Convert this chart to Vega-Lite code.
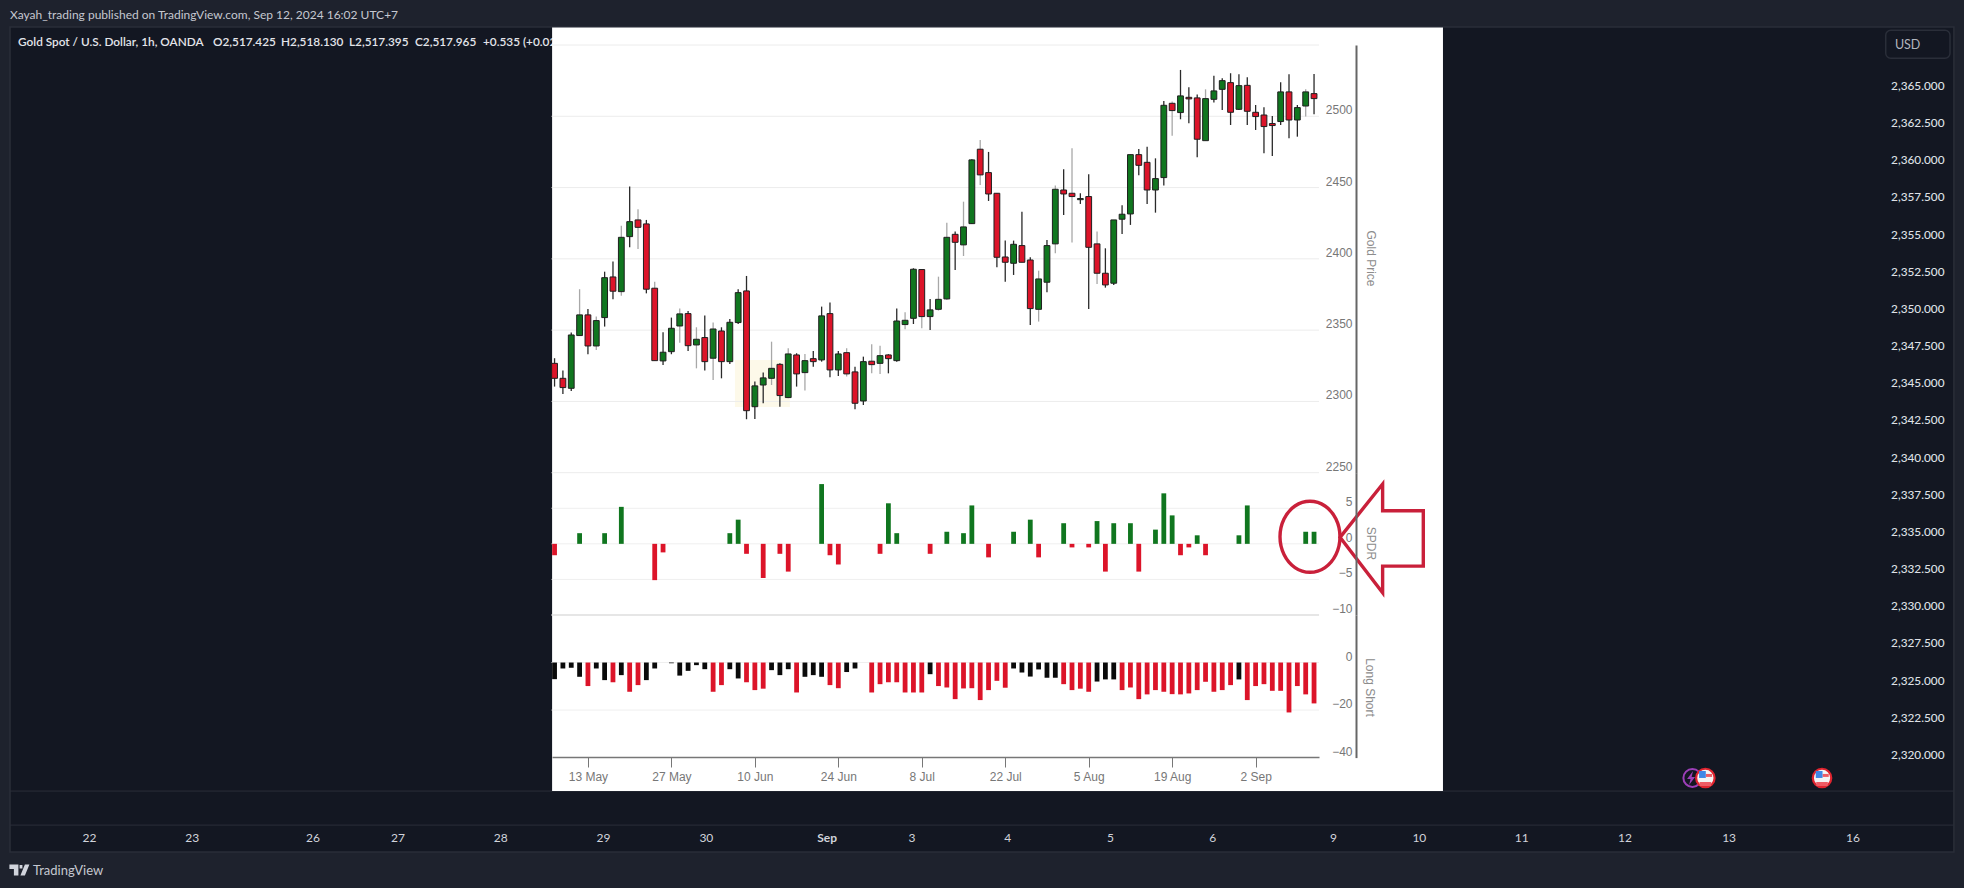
{
  "$schema": "https://vega.github.io/schema/vega-lite/v6.json",
  "width": 1964,
  "height": 888,
  "autosize": "none",
  "padding": 0,
  "background": "#1e222d",
  "config": {"view": {"stroke": null}, "font": "Liberation Sans"},
  "datasets": {
    "days": [
      {"d":"7 May","dir":"d","o":2326.7,"h":2330.3,"l":2310.4,"c":2316.2,"wick":"k","spdr":-1.6,"ls":-7,"lsc":"k"},
      {"d":"8 May","dir":"d","o":2316.2,"h":2321.6,"l":2305.2,"c":2309.7,"wick":"k","spdr":0,"ls":-2.5,"lsc":"k"},
      {"d":"9 May","dir":"u","o":2309.2,"h":2348.3,"l":2307.3,"c":2346.6,"wick":"k","spdr":0,"ls":-2.2,"lsc":"k"},
      {"d":"10 May","dir":"u","o":2346.2,"h":2378.7,"l":2346.2,"c":2360.7,"wick":"g","spdr":1.5,"ls":-6,"lsc":"k"},
      {"d":"13 May","dir":"d","o":2360.7,"h":2364.9,"l":2333.1,"c":2338.9,"wick":"k","spdr":0,"ls":-9.9,"lsc":"r"},
      {"d":"14 May","dir":"u","o":2338.9,"h":2359.5,"l":2336.1,"c":2356.7,"wick":"g","spdr":0,"ls":-2.5,"lsc":"k"},
      {"d":"15 May","dir":"u","o":2358.8,"h":2391,"l":2352.5,"c":2386.8,"wick":"k","spdr":1.5,"ls":-7.4,"lsc":"k"},
      {"d":"16 May","dir":"d","o":2387.3,"h":2398.1,"l":2371.6,"c":2377.3,"wick":"k","spdr":0,"ls":-8.3,"lsc":"r"},
      {"d":"17 May","dir":"u","o":2377,"h":2423.3,"l":2374.2,"c":2415.1,"wick":"g","spdr":5.2,"ls":-5.3,"lsc":"k"},
      {"d":"20 May","dir":"u","o":2415.6,"h":2450.7,"l":2408.1,"c":2426.1,"wick":"k","spdr":0,"ls":-12.3,"lsc":"r"},
      {"d":"21 May","dir":"d","o":2427.3,"h":2434.8,"l":2406.9,"c":2422.1,"wick":"g","spdr":0,"ls":-9.5,"lsc":"r"},
      {"d":"22 May","dir":"d","o":2424.5,"h":2427.3,"l":2375.8,"c":2378.7,"wick":"k","spdr":0,"ls":-7.4,"lsc":"k"},
      {"d":"23 May","dir":"d","o":2379.4,"h":2384,"l":2328.6,"c":2328.6,"wick":"g","spdr":-5.1,"ls":-2.5,"lsc":"k"},
      {"d":"24 May","dir":"u","o":2328.4,"h":2348.5,"l":2325.6,"c":2334.5,"wick":"k","spdr":-1.2,"ls":0,"lsc":"k"},
      {"d":"27 May","dir":"u","o":2334.9,"h":2358.8,"l":2333.1,"c":2351.3,"wick":"k","spdr":0,"ls":-0.3,"lsc":"k"},
      {"d":"28 May","dir":"u","o":2352.9,"h":2365.1,"l":2341.2,"c":2361.4,"wick":"g","spdr":0,"ls":-5.5,"lsc":"k"},
      {"d":"29 May","dir":"d","o":2361.6,"h":2363.5,"l":2335.4,"c":2339.1,"wick":"k","spdr":0,"ls":-3.5,"lsc":"k"},
      {"d":"30 May","dir":"u","o":2339.6,"h":2352,"l":2323.2,"c":2343.6,"wick":"g","spdr":0,"ls":-1.1,"lsc":"k"},
      {"d":"31 May","dir":"d","o":2344.8,"h":2360.2,"l":2321.6,"c":2327.9,"wick":"k","spdr":0,"ls":-2.8,"lsc":"k"},
      {"d":"3 Jun","dir":"u","o":2330.3,"h":2355.3,"l":2315.1,"c":2350.8,"wick":"g","spdr":0,"ls":-12.3,"lsc":"r"},
      {"d":"4 Jun","dir":"d","o":2349.4,"h":2352,"l":2316.2,"c":2327.9,"wick":"k","spdr":0,"ls":-9.5,"lsc":"r"},
      {"d":"5 Jun","dir":"u","o":2327.9,"h":2357.8,"l":2326.3,"c":2355.5,"wick":"k","spdr":1.5,"ls":-2.8,"lsc":"k"},
      {"d":"6 Jun","dir":"u","o":2355.3,"h":2378.7,"l":2354.3,"c":2376.3,"wick":"k","spdr":3.4,"ls":-6.7,"lsc":"k"},
      {"d":"7 Jun","dir":"d","o":2377.5,"h":2388,"l":2287.5,"c":2293.5,"wick":"k","spdr":-1.4,"ls":-8.3,"lsc":"r"},
      {"d":"10 Jun","dir":"u","o":2296.3,"h":2313.9,"l":2287.7,"c":2310.9,"wick":"k","spdr":0,"ls":-11.6,"lsc":"r"},
      {"d":"11 Jun","dir":"u","o":2311.5,"h":2320.2,"l":2298.7,"c":2316.5,"wick":"k","spdr":-4.8,"ls":-11,"lsc":"r"},
      {"d":"12 Jun","dir":"u","o":2316.2,"h":2341.9,"l":2311.5,"c":2323.2,"wick":"g","spdr":0,"ls":-3.2,"lsc":"k"},
      {"d":"13 Jun","dir":"d","o":2326,"h":2326.7,"l":2296.3,"c":2304.1,"wick":"k","spdr":-1.4,"ls":-5.3,"lsc":"k"},
      {"d":"14 Jun","dir":"u","o":2302.7,"h":2337.3,"l":2302.2,"c":2333.3,"wick":"g","spdr":-3.9,"ls":-2.8,"lsc":"k"},
      {"d":"17 Jun","dir":"d","o":2332.6,"h":2333.8,"l":2310.4,"c":2319.3,"wick":"k","spdr":0,"ls":-12.6,"lsc":"r"},
      {"d":"18 Jun","dir":"u","o":2320.2,"h":2333.3,"l":2307.6,"c":2328.6,"wick":"g","spdr":0,"ls":-6,"lsc":"k"},
      {"d":"19 Jun","dir":"d","o":2330,"h":2335.4,"l":2324.4,"c":2327.9,"wick":"k","spdr":0,"ls":-5.3,"lsc":"k"},
      {"d":"20 Jun","dir":"u","o":2329.1,"h":2366.5,"l":2327.9,"c":2360,"wick":"k","spdr":8.4,"ls":-6,"lsc":"k"},
      {"d":"21 Jun","dir":"d","o":2361.6,"h":2369.3,"l":2316.9,"c":2322.1,"wick":"k","spdr":-1.6,"ls":-9.5,"lsc":"r"},
      {"d":"24 Jun","dir":"u","o":2322.1,"h":2335.4,"l":2317.9,"c":2333.3,"wick":"k","spdr":-2.9,"ls":-10.8,"lsc":"r"},
      {"d":"25 Jun","dir":"d","o":2334.2,"h":2337.3,"l":2317.4,"c":2319.3,"wick":"g","spdr":0,"ls":-4,"lsc":"k"},
      {"d":"26 Jun","dir":"d","o":2320.7,"h":2324.4,"l":2294.5,"c":2298.7,"wick":"k","spdr":0,"ls":-2.5,"lsc":"k"},
      {"d":"27 Jun","dir":"u","o":2300.3,"h":2331.4,"l":2297.5,"c":2327.9,"wick":"k","spdr":0,"ls":0,"lsc":"k"},
      {"d":"28 Jun","dir":"d","o":2328.2,"h":2340.1,"l":2319.7,"c":2325.8,"wick":"g","spdr":0,"ls":-12.6,"lsc":"r"},
      {"d":"1 Jul","dir":"u","o":2326.7,"h":2339.1,"l":2319.3,"c":2332.1,"wick":"g","spdr":-1.4,"ls":-9.1,"lsc":"r"},
      {"d":"2 Jul","dir":"d","o":2332.6,"h":2333.1,"l":2319.7,"c":2330,"wick":"k","spdr":5.7,"ls":-8.3,"lsc":"r"},
      {"d":"3 Jul","dir":"u","o":2328.6,"h":2365.1,"l":2327.9,"c":2356.4,"wick":"k","spdr":1.5,"ls":-8.3,"lsc":"r"},
      {"d":"4 Jul","dir":"u","o":2353.9,"h":2362.5,"l":2350.6,"c":2356.9,"wick":"g","spdr":0,"ls":-12.6,"lsc":"r"},
      {"d":"5 Jul","dir":"u","o":2358.3,"h":2393.4,"l":2354.3,"c":2392.7,"wick":"k","spdr":0,"ls":-12.6,"lsc":"r"},
      {"d":"8 Jul","dir":"d","o":2392.5,"h":2392.5,"l":2351.3,"c":2359.5,"wick":"g","spdr":0,"ls":-12.6,"lsc":"r"},
      {"d":"9 Jul","dir":"u","o":2359.5,"h":2371.9,"l":2350.1,"c":2364.2,"wick":"k","spdr":-1.4,"ls":-4.9,"lsc":"k"},
      {"d":"10 Jul","dir":"u","o":2364.6,"h":2387.5,"l":2363.7,"c":2371.6,"wick":"g","spdr":0,"ls":-9.9,"lsc":"r"},
      {"d":"11 Jul","dir":"u","o":2371.9,"h":2425.4,"l":2371.2,"c":2415.1,"wick":"g","spdr":1.7,"ls":-10.5,"lsc":"r"},
      {"d":"12 Jul","dir":"d","o":2417.2,"h":2419.1,"l":2392.2,"c":2411.6,"wick":"k","spdr":0,"ls":-15.4,"lsc":"r"},
      {"d":"15 Jul","dir":"u","o":2409.8,"h":2440.1,"l":2402,"c":2422.4,"wick":"g","spdr":1.5,"ls":-10.9,"lsc":"r"},
      {"d":"16 Jul","dir":"u","o":2424.7,"h":2469.8,"l":2424.5,"c":2469.4,"wick":"k","spdr":5.4,"ls":-10.8,"lsc":"r"},
      {"d":"17 Jul","dir":"d","o":2476.9,"h":2483.4,"l":2451.8,"c":2458.9,"wick":"g","spdr":0,"ls":-15.8,"lsc":"r"},
      {"d":"18 Jul","dir":"d","o":2460.5,"h":2475,"l":2440.6,"c":2445.5,"wick":"k","spdr":-1.9,"ls":-11.6,"lsc":"r"},
      {"d":"19 Jul","dir":"d","o":2446,"h":2446,"l":2394.1,"c":2401.1,"wick":"k","spdr":0,"ls":-7.7,"lsc":"r"},
      {"d":"22 Jul","dir":"d","o":2401.3,"h":2412.8,"l":2384,"c":2397.6,"wick":"k","spdr":0,"ls":-10.6,"lsc":"r"},
      {"d":"23 Jul","dir":"u","o":2396.9,"h":2412.8,"l":2388.7,"c":2410.2,"wick":"k","spdr":1.7,"ls":-2.5,"lsc":"k"},
      {"d":"24 Jul","dir":"d","o":2409.3,"h":2433.1,"l":2397.6,"c":2397.6,"wick":"k","spdr":0,"ls":-4.2,"lsc":"k"},
      {"d":"25 Jul","dir":"d","o":2399.2,"h":2401.1,"l":2353.6,"c":2365.1,"wick":"k","spdr":3.4,"ls":-5.9,"lsc":"k"},
      {"d":"26 Jul","dir":"u","o":2364.6,"h":2391.7,"l":2356,"c":2385.9,"wick":"g","spdr":-1.9,"ls":-2.9,"lsc":"k"},
      {"d":"29 Jul","dir":"u","o":2383.6,"h":2413.3,"l":2376.6,"c":2409.3,"wick":"k","spdr":0,"ls":-6.4,"lsc":"k"},
      {"d":"30 Jul","dir":"u","o":2410.5,"h":2451.4,"l":2403.9,"c":2448.8,"wick":"g","spdr":0,"ls":-6.4,"lsc":"k"},
      {"d":"31 Jul","dir":"d","o":2448.3,"h":2462.8,"l":2430.8,"c":2445.5,"wick":"k","spdr":2.9,"ls":-9.1,"lsc":"r"},
      {"d":"1 Aug","dir":"d","o":2446,"h":2477.6,"l":2411.4,"c":2443.7,"wick":"g","spdr":-0.5,"ls":-11.6,"lsc":"r"},
      {"d":"2 Aug","dir":"u","o":2441.5,"h":2446,"l":2438.5,"c":2442.3,"wick":"k","spdr":0,"ls":-11,"lsc":"r"},
      {"d":"5 Aug","dir":"d","o":2443.7,"h":2459.3,"l":2364.9,"c":2408.1,"wick":"k","spdr":-0.5,"ls":-12.3,"lsc":"r"},
      {"d":"6 Aug","dir":"d","o":2410.5,"h":2419.1,"l":2382.4,"c":2389.9,"wick":"g","spdr":3.2,"ls":-8,"lsc":"k"},
      {"d":"7 Aug","dir":"d","o":2389.9,"h":2407.4,"l":2379.8,"c":2381.7,"wick":"k","spdr":-3.9,"ls":-7.1,"lsc":"k"},
      {"d":"8 Aug","dir":"u","o":2382.9,"h":2427.3,"l":2381.7,"c":2427.3,"wick":"k","spdr":2.9,"ls":-7.1,"lsc":"k"},
      {"d":"9 Aug","dir":"u","o":2427.8,"h":2437.6,"l":2417.5,"c":2431.3,"wick":"k","spdr":0,"ls":-11.6,"lsc":"r"},
      {"d":"12 Aug","dir":"u","o":2431.5,"h":2473.1,"l":2423.8,"c":2473.1,"wick":"k","spdr":2.9,"ls":-10.5,"lsc":"r"},
      {"d":"13 Aug","dir":"d","o":2473.1,"h":2477.1,"l":2458.6,"c":2465.6,"wick":"k","spdr":-3.9,"ls":-15.4,"lsc":"r"},
      {"d":"14 Aug","dir":"d","o":2467.7,"h":2478.7,"l":2438.5,"c":2448.3,"wick":"k","spdr":0,"ls":-13.4,"lsc":"r"},
      {"d":"15 Aug","dir":"u","o":2448.3,"h":2470.5,"l":2432.4,"c":2456.3,"wick":"k","spdr":2,"ls":-11.6,"lsc":"r"},
      {"d":"16 Aug","dir":"u","o":2457,"h":2510.8,"l":2451.4,"c":2507.7,"wick":"k","spdr":7.1,"ls":-12.3,"lsc":"r"},
      {"d":"19 Aug","dir":"d","o":2509.1,"h":2510.3,"l":2486.4,"c":2504,"wick":"g","spdr":4,"ls":-13.3,"lsc":"r"},
      {"d":"20 Aug","dir":"u","o":2502.6,"h":2532.5,"l":2497.9,"c":2514.3,"wick":"k","spdr":-1.6,"ls":-13.4,"lsc":"r"},
      {"d":"21 Aug","dir":"d","o":2513.3,"h":2520.3,"l":2495.1,"c":2512.2,"wick":"k","spdr":-0.5,"ls":-13,"lsc":"r"},
      {"d":"22 Aug","dir":"d","o":2512.9,"h":2515.2,"l":2471.2,"c":2483.9,"wick":"k","spdr":1.2,"ls":-11.6,"lsc":"r"},
      {"d":"23 Aug","dir":"u","o":2482.9,"h":2518.9,"l":2482.9,"c":2512.4,"wick":"g","spdr":-1.6,"ls":-8.1,"lsc":"r"},
      {"d":"26 Aug","dir":"u","o":2511.9,"h":2528.5,"l":2509.6,"c":2517.8,"wick":"k","spdr":0,"ls":-12.3,"lsc":"r"},
      {"d":"27 Aug","dir":"u","o":2518.9,"h":2526.7,"l":2504.4,"c":2525,"wick":"k","spdr":0,"ls":-11.6,"lsc":"r"},
      {"d":"28 Aug","dir":"d","o":2523.6,"h":2530.2,"l":2493.9,"c":2502.8,"wick":"k","spdr":0,"ls":-9.5,"lsc":"r"},
      {"d":"29 Aug","dir":"u","o":2504.9,"h":2529.5,"l":2504.4,"c":2521.5,"wick":"k","spdr":1.2,"ls":-7.1,"lsc":"k"},
      {"d":"30 Aug","dir":"d","o":2521.7,"h":2527.4,"l":2493.9,"c":2503.5,"wick":"k","spdr":5.4,"ls":-15.8,"lsc":"r"},
      {"d":"2 Sep","dir":"d","o":2502.8,"h":2507.9,"l":2490.4,"c":2499.8,"wick":"k","spdr":0,"ls":-9.9,"lsc":"r"},
      {"d":"3 Sep","dir":"d","o":2500.9,"h":2506.3,"l":2474,"c":2492.8,"wick":"k","spdr":0,"ls":-9.1,"lsc":"r"},
      {"d":"4 Sep","dir":"d","o":2494.9,"h":2500.2,"l":2472.2,"c":2493.5,"wick":"k","spdr":0,"ls":-11.9,"lsc":"r"},
      {"d":"5 Sep","dir":"u","o":2496.3,"h":2523.8,"l":2493.9,"c":2517.1,"wick":"k","spdr":0,"ls":-11.9,"lsc":"r"},
      {"d":"6 Sep","dir":"d","o":2517.1,"h":2529.5,"l":2484.6,"c":2497.4,"wick":"k","spdr":0,"ls":-21,"lsc":"r"},
      {"d":"9 Sep","dir":"u","o":2497.4,"h":2507.9,"l":2485.7,"c":2506.1,"wick":"k","spdr":0,"ls":-9.9,"lsc":"r"},
      {"d":"10 Sep","dir":"u","o":2507.2,"h":2518.9,"l":2499.8,"c":2517.1,"wick":"g","spdr":1.7,"ls":-13.4,"lsc":"r"},
      {"d":"11 Sep","dir":"d","o":2515.9,"h":2529.7,"l":2501.4,"c":2512.4,"wick":"k","spdr":1.7,"ls":-17.2,"lsc":"r"}
    ]
  },
  "resolve": {"scale": {"x": "independent", "y": "independent"}},
  "layer": [
    {
      "encoding": {
        "x": {
          "field": "bar",
          "type": "quantitative",
          "scale": {"domain": [-19.91, 419.46], "nice": false, "zero": false},
          "axis": {
            "orient": "bottom",
            "offset": -56,
            "title": null,
            "grid": false,
            "domain": false,
            "ticks": false,
            "labelPadding": 0,
            "labelFont": "Lato",
            "labelFontSize": 12,
            "labelColor": "#d1d4dc",
            "labelOverlap": false,
            "labelFlush": false,
            "labelFontWeight": {"condition": {"test": "datum.value == 165", "value": "bold"}, "value": "normal"},
            "zindex": 1,
            "values": [0, 23, 50, 69, 92, 115, 138, 165, 184, 205.4, 228.4, 251.3, 278.3, 297.5, 320.4, 343.5, 366.8, 394.5],
            "labelExpr": "{'0':'22','23':'23','50':'26','69':'27','92':'28','115':'29','138':'30','165':'Sep','184':'3','205.4':'4','228.4':'5','251.3':'6','278.3':'9','297.5':'10','320.4':'11','343.5':'12','366.8':'13','394.5':'16'}[datum.value]"
          }
        },
        "y": {
          "field": "price",
          "type": "quantitative",
          "scale": {"domain": [2311.02, 2370.74], "nice": false, "zero": false},
          "axis": {
            "orient": "left",
            "offset": -1944,
            "title": null,
            "grid": false,
            "domain": false,
            "ticks": false,
            "labelPadding": 0,
            "labelFont": "Lato",
            "labelFontSize": 11.8,
            "labelFontWeight": 500,
            "labelColor": "#dfe1e6",
            "format": ",.3f",
            "labelOverlap": false,
            "labelFlush": false,
            "zindex": 1,
            "values": [2320, 2322.5, 2325, 2327.5, 2330, 2332.5, 2335, 2337.5, 2340, 2342.5, 2345, 2347.5, 2350, 2352.5, 2355, 2357.5, 2360, 2362.5, 2365]
          }
        }
      },
      "layer": [
        {
          "data": {"values": [{"bar": -17.67, "bar2": 417.2, "price": 2368.92, "price2": 2313.44}]},
          "mark": {"type": "rect", "fill": "#131722", "stroke": "#2a2e39", "strokeWidth": 1.5},
          "encoding": {"x2": {"field": "bar2"}, "y2": {"field": "price2"}}
        },
        {
          "data": {"values": [
            {"bar": -17.67, "bar2": 417.2, "price": 2317.54},
            {"bar": -17.67, "bar2": 417.2, "price": 2315.25}
          ]},
          "mark": {"type": "rule", "stroke": "#2a2e39", "strokeWidth": 1},
          "encoding": {"x2": {"field": "bar2"}}
        },
        {
          "data": {"values": [{"bar": 401.95, "bar2": 416.33, "price": 2368.7, "price2": 2366.82}]},
          "mark": {"type": "rect", "fill": "#131722", "stroke": "#2a2e39", "strokeWidth": 1.5, "cornerRadius": 5},
          "encoding": {"x2": {"field": "bar2"}, "y2": {"field": "price2"}}
        },
        {
          "data": {"values": [{"bar": 404, "price": 2367.74, "t": "USD"}]},
          "mark": {"type": "text", "align": "left", "baseline": "middle", "font": "Lato", "fontSize": 12.5, "color": "#b2b5be"},
          "encoding": {"text": {"field": "t"}}
        },
        {
          "data": {"values": [{"bar": -17.67, "price": 2369.73, "t": "Xayah_trading published on TradingView.com, Sep 12, 2024 16:02 UTC+7"}]},
          "mark": {"type": "text", "align": "left", "baseline": "middle", "font": "Lato", "fontSize": 12, "color": "#c5c8d0"},
          "encoding": {"text": {"field": "t"}}
        },
        {
          "data": {"values": [
            {"bar": -15.88, "price": 2367.91, "t": "Gold Spot / U.S. Dollar, 1h, OANDA"},
            {"bar": 27.74, "price": 2367.91, "t": "O2,517.425"},
            {"bar": 42.95, "price": 2367.91, "t": "H2,518.130"},
            {"bar": 58.17, "price": 2367.91, "t": "L2,517.395"},
            {"bar": 72.93, "price": 2367.91, "t": "C2,517.965"},
            {"bar": 88.14, "price": 2367.91, "t": "+0.535 (+0.02%)"}
          ]},
          "mark": {"type": "text", "align": "left", "baseline": "middle", "font": "Lato", "fontSize": 11.8, "fontWeight": 600, "color": "#e3e5ea"},
          "encoding": {"text": {"field": "t"}}
        },
        {
          "data": {"values": [{"bar": -12.53, "price": 2312.18, "t": "TradingView"}]},
          "mark": {"type": "text", "align": "left", "baseline": "middle", "font": "Lato", "fontSize": 13, "color": "#c5c8d0"},
          "encoding": {"text": {"field": "t"}}
        },
        {
          "data": {"values": [{"bar": -15.57, "price": 2312.23}]},
          "mark": {
            "type": "point",
            "filled": true,
            "color": "#d1d4dc",
            "opacity": 1,
            "size": 400,
            "shape": "M-1,-.55 H-.1 V.55 H-.55 V-.1 H-1 Z M.55,-.55 H1 L.55,.55 H.1 Z M.02,-.5 H.3 V-.15 H.02 Z"
          }
        },
        {
          "data": {"values": [{"bar": 103.6, "bar2": 302.9, "price": 2368.89, "price2": 2317.54}]},
          "mark": {"type": "rect", "fill": "#ffffff"},
          "encoding": {"x2": {"field": "bar2"}, "y2": {"field": "price2"}}
        },
        {
          "data": {"values": [{"bar": 144.5, "bar2": 156.8, "price": 2346.53, "price2": 2343.37}]},
          "mark": {"type": "rect", "fill": "#fdf9e9"},
          "encoding": {"x2": {"field": "bar2"}, "y2": {"field": "price2"}}
        },
        {
          "data": {"values": [{"bar": 358.7, "price": 2318.42}]},
          "mark": {"type": "point", "filled": false, "stroke": "#9c3fb8", "strokeWidth": 2, "opacity": 1, "size": 324, "shape": "circle"}
        },
        {
          "data": {"values": [{"bar": 358.4, "price": 2318.42}]},
          "mark": {
            "type": "point",
            "filled": true,
            "color": "#9c3fb8",
            "opacity": 1,
            "size": 400,
            "shape": "M.2,-.7 L-.4,.1 H-.05 L-.2,.7 L.4,-.1 H.05 Z"
          }
        },
        {
          "data": {"values": [{"bar": 361.6, "price": 2318.42}, {"bar": 387.7, "price": 2318.42}]},
          "mark": {"type": "point", "filled": true, "fill": "#f4f4f4", "stroke": "#e0242f", "strokeWidth": 2.2, "opacity": 1, "size": 340, "shape": "circle"}
        },
        {
          "data": {"values": [
            {"bar": 361.7, "bar2": 363.1, "price": 2318.69, "price2": 2318.49},
            {"bar": 360.3, "bar2": 362.9, "price": 2318.15, "price2": 2317.88},
            {"bar": 387.81, "bar2": 389.2, "price": 2318.69, "price2": 2318.49},
            {"bar": 386.4, "bar2": 389, "price": 2318.15, "price2": 2317.88}
          ]},
          "mark": {"type": "rect", "fill": "#ee5b64"},
          "encoding": {"x2": {"field": "bar2"}, "y2": {"field": "price2"}}
        },
        {
          "data": {"values": [
            {"bar": 360.2, "bar2": 361.7, "price": 2318.89, "price2": 2318.42},
            {"bar": 386.3, "bar2": 387.81, "price": 2318.89, "price2": 2318.42}
          ]},
          "mark": {"type": "rect", "fill": "#3f86e6"},
          "encoding": {"x2": {"field": "bar2"}, "y2": {"field": "price2"}}
        }
      ]
    },
    {
      "encoding": {
        "x": {
          "field": "d",
          "type": "ordinal",
          "scale": {
            "type": "point",
            "domain": ["7 May","8 May","9 May","10 May","13 May","14 May","15 May","16 May","17 May","20 May","21 May","22 May","23 May","24 May","27 May","28 May","29 May","30 May","31 May","3 Jun","4 Jun","5 Jun","6 Jun","7 Jun","10 Jun","11 Jun","12 Jun","13 Jun","14 Jun","17 Jun","18 Jun","19 Jun","20 Jun","21 Jun","24 Jun","25 Jun","26 Jun","27 Jun","28 Jun","1 Jul","2 Jul","3 Jul","4 Jul","5 Jul","8 Jul","9 Jul","10 Jul","11 Jul","12 Jul","15 Jul","16 Jul","17 Jul","18 Jul","19 Jul","22 Jul","23 Jul","24 Jul","25 Jul","26 Jul","29 Jul","30 Jul","31 Jul","1 Aug","2 Aug","5 Aug","6 Aug","7 Aug","8 Aug","9 Aug","12 Aug","13 Aug","14 Aug","15 Aug","16 Aug","19 Aug","20 Aug","21 Aug","22 Aug","23 Aug","26 Aug","27 Aug","28 Aug","29 Aug","30 Aug","2 Sep","3 Sep","4 Sep","5 Sep","6 Sep","9 Sep","10 Sep","11 Sep"],
            "range": [552, 1319],
            "padding": 0.45,
            "align": 0.34
          },
          "axis": {
            "orient": "bottom",
            "offset": -131,
            "title": null,
            "grid": false,
            "domainColor": "#777777",
            "domainWidth": 1.5,
            "tickColor": "#777777",
            "tickSize": 10,
            "labelAngle": 0,
            "labelPadding": 4,
            "labelFontSize": 12,
            "labelColor": "#777777",
            "labelOverlap": false,
            "labelFlush": false,
            "zindex": 1,
            "values": ["13 May", "27 May", "10 Jun", "24 Jun", "8 Jul", "22 Jul", "5 Aug", "19 Aug", "2 Sep"]
          }
        }
      },
      "resolve": {"scale": {"y": "independent"}},
      "layer": [
        {
          "resolve": {"axis": {"y": "independent"}},
          "layer": [
            {
              "data": {"values": [
                {"d": "7 May", "d2": "11 Sep", "v": 2550},
                {"d": "7 May", "d2": "11 Sep", "v": 2500},
                {"d": "7 May", "d2": "11 Sep", "v": 2450},
                {"d": "7 May", "d2": "11 Sep", "v": 2400},
                {"d": "7 May", "d2": "11 Sep", "v": 2350},
                {"d": "7 May", "d2": "11 Sep", "v": 2300},
                {"d": "7 May", "d2": "11 Sep", "v": 2250}
              ]},
              "mark": {"type": "rule", "stroke": "#ececec", "strokeWidth": 1, "xOffset": -3, "x2Offset": 5},
              "encoding": {
                "x2": {"field": "d2"},
                "y": {
                  "field": "v",
                  "type": "quantitative",
                  "scale": {"domain": [2250, 2550], "range": [472.7, 45], "nice": false, "zero": false},
                  "axis": {
                    "orient": "left",
                    "offset": -1356,
                    "grid": false,
                    "ticks": false,
                    "domainColor": "#666666",
                    "domainWidth": 2,
                    "values": [2250, 2300, 2350, 2400, 2450, 2500],
                    "format": "d",
                    "labelFontSize": 12,
                    "labelColor": "#777777",
                    "labelPadding": 4,
                    "labelOffset": -6.5,
                    "labelOverlap": false,
                    "labelFlush": false,
                    "zindex": 1,
                    "title": "Gold Price",
                    "titleAngle": 90,
                    "titleX": 14,
                    "titleY": 258,
                    "titleAlign": "center",
                    "titleBaseline": "middle",
                    "titleFontSize": 12,
                    "titleFontWeight": "normal",
                    "titleColor": "#8c8c8c"
                  }
                }
              }
            },
            {
              "data": {"name": "days"},
              "mark": {"type": "rule", "strokeWidth": 1.3},
              "encoding": {
                "y": {"field": "l", "type": "quantitative", "axis": null},
                "y2": {"field": "h"},
                "color": {"condition": {"test": "datum.wick == 'g'", "value": "#a8a8a8"}, "value": "#2a2a2a"}
              }
            },
            {
              "data": {"name": "days"},
              "mark": {"type": "bar", "size": 5.8, "stroke": "#1f1f1f", "strokeWidth": 1},
              "encoding": {
                "y": {"field": "o", "type": "quantitative", "axis": null},
                "y2": {"field": "c"},
                "color": {"condition": {"test": "datum.dir == 'u'", "value": "#10761f"}, "value": "#dc1429"}
              }
            }
          ]
        },
        {
          "resolve": {"axis": {"y": "independent"}},
          "layer": [
            {
              "data": {"values": [
                {"d": "7 May", "d2": "11 Sep", "v": 5},
                {"d": "7 May", "d2": "11 Sep", "v": 0},
                {"d": "7 May", "d2": "11 Sep", "v": -5}
              ]},
              "mark": {"type": "rule", "stroke": "#efefef", "strokeWidth": 1, "xOffset": -3, "x2Offset": 5},
              "encoding": {
                "x2": {"field": "d2"},
                "y": {
                  "field": "v",
                  "type": "quantitative",
                  "scale": {"domain": [-10, 10], "range": [615, 472.7], "nice": false, "zero": false},
                  "axis": {
                    "orient": "left",
                    "offset": -1356,
                    "grid": false,
                    "ticks": false,
                    "domainColor": "#666666",
                    "domainWidth": 2,
                    "values": [-10, -5, 0, 5],
                    "format": "d",
                    "labelFontSize": 12,
                    "labelColor": "#777777",
                    "labelPadding": 4,
                    "labelOffset": -6.5,
                    "labelOverlap": false,
                    "labelFlush": false,
                    "zindex": 1,
                    "title": "SPDR",
                    "titleAngle": 90,
                    "titleX": 14,
                    "titleY": 543,
                    "titleAlign": "center",
                    "titleBaseline": "middle",
                    "titleFontSize": 12,
                    "titleFontWeight": "normal",
                    "titleColor": "#8c8c8c"
                  }
                }
              }
            },
            {
              "data": {"values": [{"d": "7 May", "d2": "11 Sep", "v": -10}]},
              "mark": {"type": "rule", "stroke": "#e6e6e6", "strokeWidth": 2, "xOffset": -3, "x2Offset": 5},
              "encoding": {"x2": {"field": "d2"}, "y": {"field": "v", "type": "quantitative", "axis": null}}
            },
            {
              "data": {"name": "days"},
              "mark": {"type": "rule", "strokeWidth": 4.8},
              "encoding": {
                "y": {"field": "spdr", "type": "quantitative", "axis": null},
                "y2": {"datum": 0},
                "color": {"condition": {"test": "datum.spdr > 0", "value": "#10761f"}, "value": "#dc1429"}
              }
            }
          ]
        },
        {
          "resolve": {"axis": {"y": "independent"}},
          "layer": [
            {
              "data": {"values": [
                {"d": "7 May", "d2": "11 Sep", "v": 0},
                {"d": "7 May", "d2": "11 Sep", "v": -20}
              ]},
              "mark": {"type": "rule", "stroke": "#efefef", "strokeWidth": 1, "xOffset": -3, "x2Offset": 5},
              "encoding": {
                "x2": {"field": "d2"},
                "y": {
                  "field": "v",
                  "type": "quantitative",
                  "scale": {"domain": [-40, 20], "range": [757.6, 615], "nice": false, "zero": false},
                  "axis": {
                    "orient": "left",
                    "offset": -1356,
                    "grid": false,
                    "ticks": false,
                    "domainColor": "#666666",
                    "domainWidth": 2,
                    "values": [-40, -20, 0],
                    "format": "d",
                    "labelFontSize": 12,
                    "labelColor": "#777777",
                    "labelPadding": 4,
                    "labelOffset": -6.5,
                    "labelOverlap": false,
                    "labelFlush": false,
                    "zindex": 1,
                    "title": "Long Short",
                    "titleAngle": 90,
                    "titleX": 13,
                    "titleY": 687,
                    "titleAlign": "center",
                    "titleBaseline": "middle",
                    "titleFontSize": 12,
                    "titleFontWeight": "normal",
                    "titleColor": "#8c8c8c"
                  }
                }
              }
            },
            {
              "data": {"name": "days"},
              "mark": {"type": "rule", "strokeWidth": 4.8},
              "encoding": {
                "y": {"field": "ls", "type": "quantitative", "axis": null},
                "y2": {"datum": 0},
                "color": {"condition": {"test": "datum.lsc == 'k'", "value": "#0a0a0a"}, "value": "#dc1429"}
              }
            }
          ]
        }
      ]
    },
    {
      "encoding": {
        "x": {"field": "bar", "type": "quantitative", "scale": {"domain": [-19.91, 419.46], "nice": false, "zero": false}, "axis": null},
        "y": {"field": "price", "type": "quantitative", "scale": {"domain": [2311.02, 2370.74], "nice": false, "zero": false}, "axis": null},
        "order": {"field": "n", "type": "quantitative"}
      },
      "layer": [
        {
          "data": {"values": [
            {"n": 0, "bar": 279.86, "price": 2334.64},
            {"n": 1, "bar": 278.96, "price": 2335.83},
            {"n": 2, "bar": 276.51, "price": 2336.71},
            {"n": 3, "bar": 273.15, "price": 2337.03},
            {"n": 4, "bar": 269.79, "price": 2336.71},
            {"n": 5, "bar": 267.34, "price": 2335.83},
            {"n": 6, "bar": 266.44, "price": 2334.64},
            {"n": 7, "bar": 267.34, "price": 2333.45},
            {"n": 8, "bar": 269.79, "price": 2332.57},
            {"n": 9, "bar": 273.15, "price": 2332.25},
            {"n": 10, "bar": 276.51, "price": 2332.57},
            {"n": 11, "bar": 278.96, "price": 2333.45}
          ]},
          "mark": {"type": "line", "interpolate": "cardinal-closed", "stroke": "#c9203a", "strokeWidth": 3.4}
        },
        {
          "data": {"values": [
            {"n": 0, "bar": 279.87, "price": 2334.6},
            {"n": 1, "bar": 289.4, "price": 2338.19},
            {"n": 2, "bar": 289.4, "price": 2336.39},
            {"n": 3, "bar": 298.5, "price": 2336.39},
            {"n": 4, "bar": 298.5, "price": 2332.67},
            {"n": 5, "bar": 289.4, "price": 2332.67},
            {"n": 6, "bar": 289.4, "price": 2330.88}
          ]},
          "mark": {"type": "line", "interpolate": "linear-closed", "stroke": "#c9203a", "strokeWidth": 3.4}
        }
      ]
    }
  ]
}
